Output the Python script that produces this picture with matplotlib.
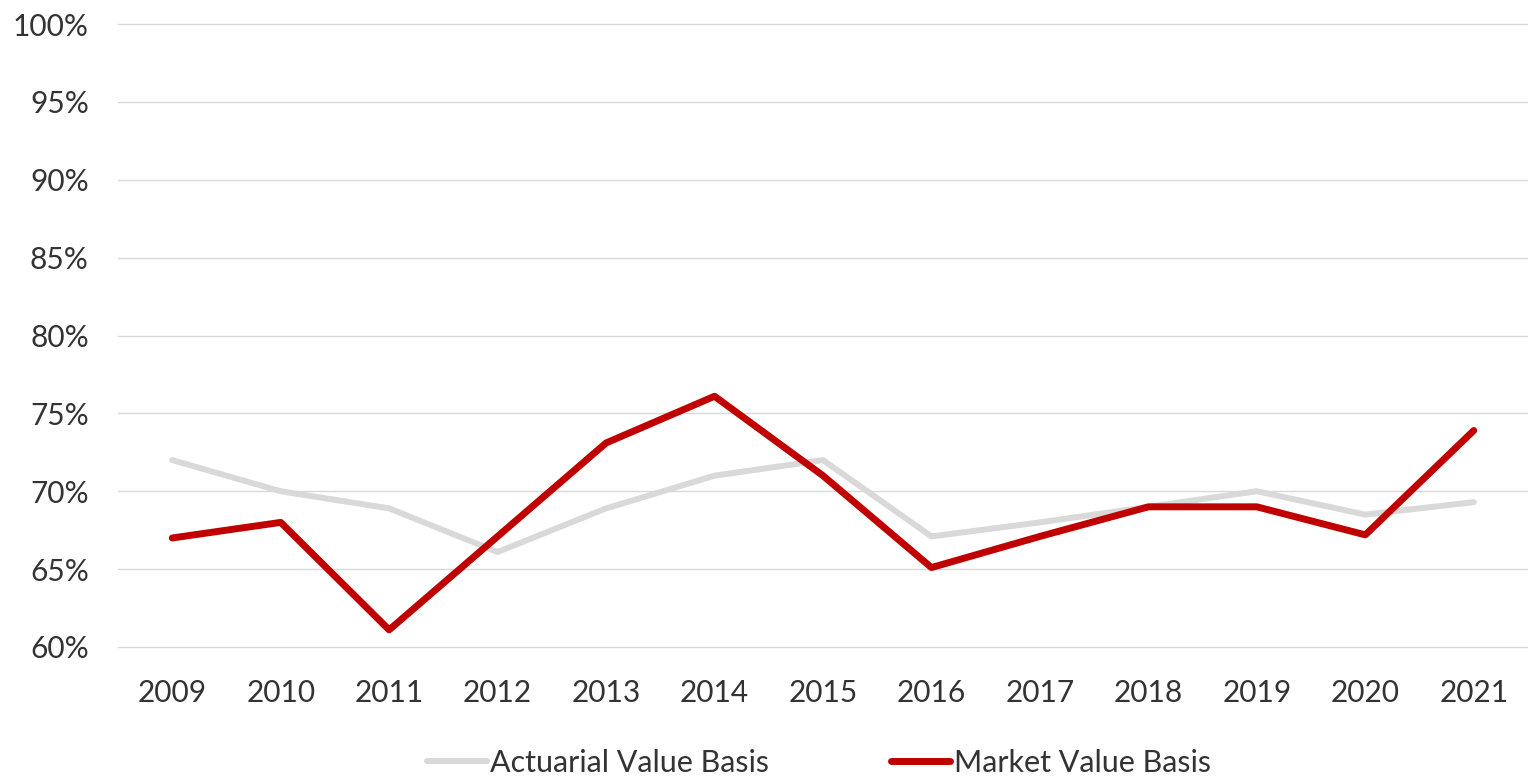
import matplotlib
matplotlib.use("Agg")
import matplotlib.pyplot as plt
from matplotlib.ticker import FuncFormatter, MultipleLocator

years = ["2009", "2010", "2011", "2012", "2013", "2014", "2015",
         "2016", "2017", "2018", "2019", "2020", "2021"]
actuarial = [72.0, 70.0, 68.9, 66.1, 68.9, 71.0, 72.0, 67.1, 68.0, 69.0, 70.0, 68.5, 69.3]
market = [67.0, 68.0, 61.1, 67.1, 73.1, 76.1, 71.0, 65.1, 67.1, 69.0, 69.0, 67.2, 73.9]

plt.rcParams['font.family'] = ['Lato', 'DejaVu Sans']

W, H = 1528, 779
fig = plt.figure(figsize=(W / 100, H / 100), dpi=100)
left, right, top, bottom = 118, 1528, 24, 647
ax = fig.add_axes([left / W, 1 - bottom / H, (right - left) / W, (bottom - top) / H])

x = list(range(len(years)))
ax.plot(x, actuarial, color="#d9d9d9", lw=4.3, solid_capstyle="round",
        solid_joinstyle="round", label="Actuarial Value Basis", zorder=3)
ax.plot(x, market, color="#c00000", lw=5.0, solid_capstyle="round",
        solid_joinstyle="round", label="Market Value Basis", zorder=4)

ax.set_xlim(-0.5, len(years) - 0.5)
ax.set_ylim(60, 100)
ax.yaxis.set_major_locator(MultipleLocator(5))
ax.yaxis.set_major_formatter(FuncFormatter(lambda v, p: f"{v:.0f}%"))
ax.set_xticks(x)
ax.set_xticklabels(years)

ax.grid(axis="y", color="#d9d9d9", lw=1.0)
for gl in ax.get_ygridlines():
    gl.set_clip_on(False)
ax.set_axisbelow(True)
for s in ax.spines.values():
    s.set_visible(False)
ax.tick_params(axis="y", length=0, pad=21, labelsize=21.5, labelcolor="#333333")
ax.tick_params(axis="x", length=0, pad=23, labelsize=21.5, labelcolor="#333333")

leg = ax.legend(loc="center", bbox_to_anchor=(0.497, -0.186), ncol=2, frameon=False,
                fontsize=22, handlelength=1.95, handletextpad=0.1, columnspacing=4.0,
                labelcolor="#333333", borderpad=0.2)

fig.savefig("out.png", dpi=100, facecolor="white")
